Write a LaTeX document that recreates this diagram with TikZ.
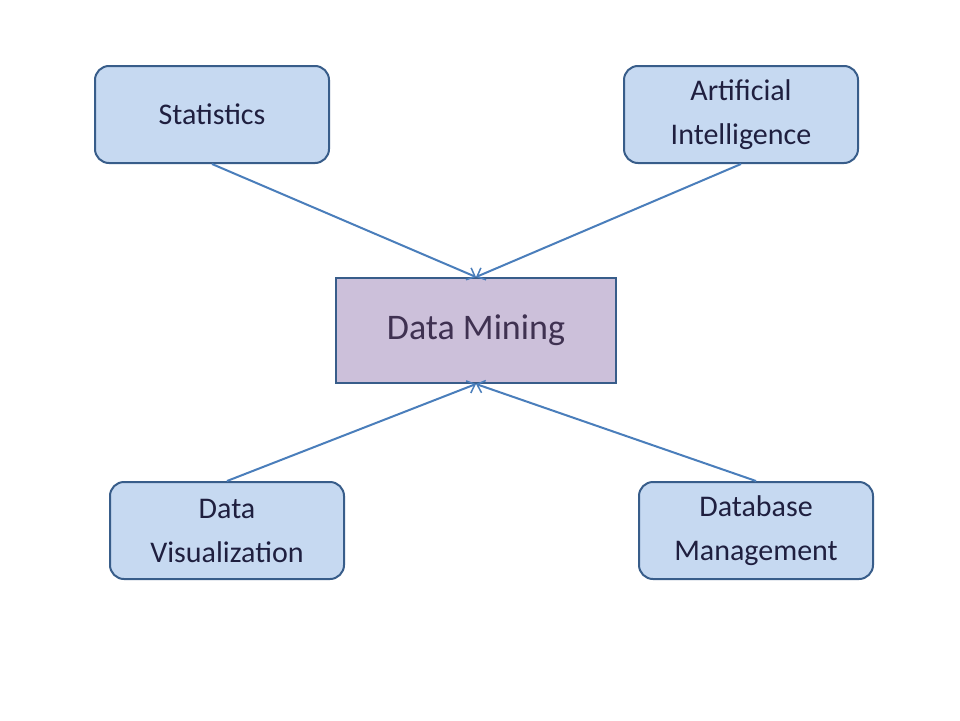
\documentclass[tikz,border=0pt]{standalone}
\usepackage{fontspec}
\setmainfont{Carlito}
\usetikzlibrary{arrows.meta}
\definecolor{boxfill}{HTML}{C6D9F1}
\definecolor{boxline}{HTML}{385D8A}
\definecolor{dmfill}{HTML}{CCC0DA}
\definecolor{arr}{HTML}{4A7EBB}
\definecolor{txt}{HTML}{1F1F3F}
\begin{document}
\begin{tikzpicture}[x=1pt,y=-1pt,
  topic/.style={draw=boxline,line width=2pt,fill=boxfill,rounded corners=14pt,minimum width=234pt,minimum height=97pt,align=center,font=\fontsize{30}{44}\selectfont,text=txt,inner sep=0pt},
  core/.style={draw=boxline,line width=2pt,fill=dmfill,minimum width=280pt,minimum height=105pt,font=\fontsize{36}{44}\selectfont,text={rgb,255:red,63;green,49;blue,81},inner sep=0pt},
  link/.style={draw=arr,line width=2pt,-{Straight Barb[length=7pt,width=13pt,line width=1.5pt]}}]
\useasboundingbox[fill=white] (0,0) rectangle (960,720);
\node[topic] (st) at (212,114.5) {Statistics};
\node[topic] (ai) at (741,114.5) {Artificial\\Intelligence};
\node[core] (dm) at (476,330.5) {Data Mining};
\node[topic] (dv) at (227,530.5) {Data\\Visualization};
\node[topic] (db) at (756,530.5) {Database\\Management};
\draw[link] (st.south) -- (dm.north);
\draw[link] (ai.south) -- (dm.north);
\draw[link] (dv.north) -- (dm.south);
\draw[link] (db.north) -- (dm.south);
\end{tikzpicture}
\end{document}
